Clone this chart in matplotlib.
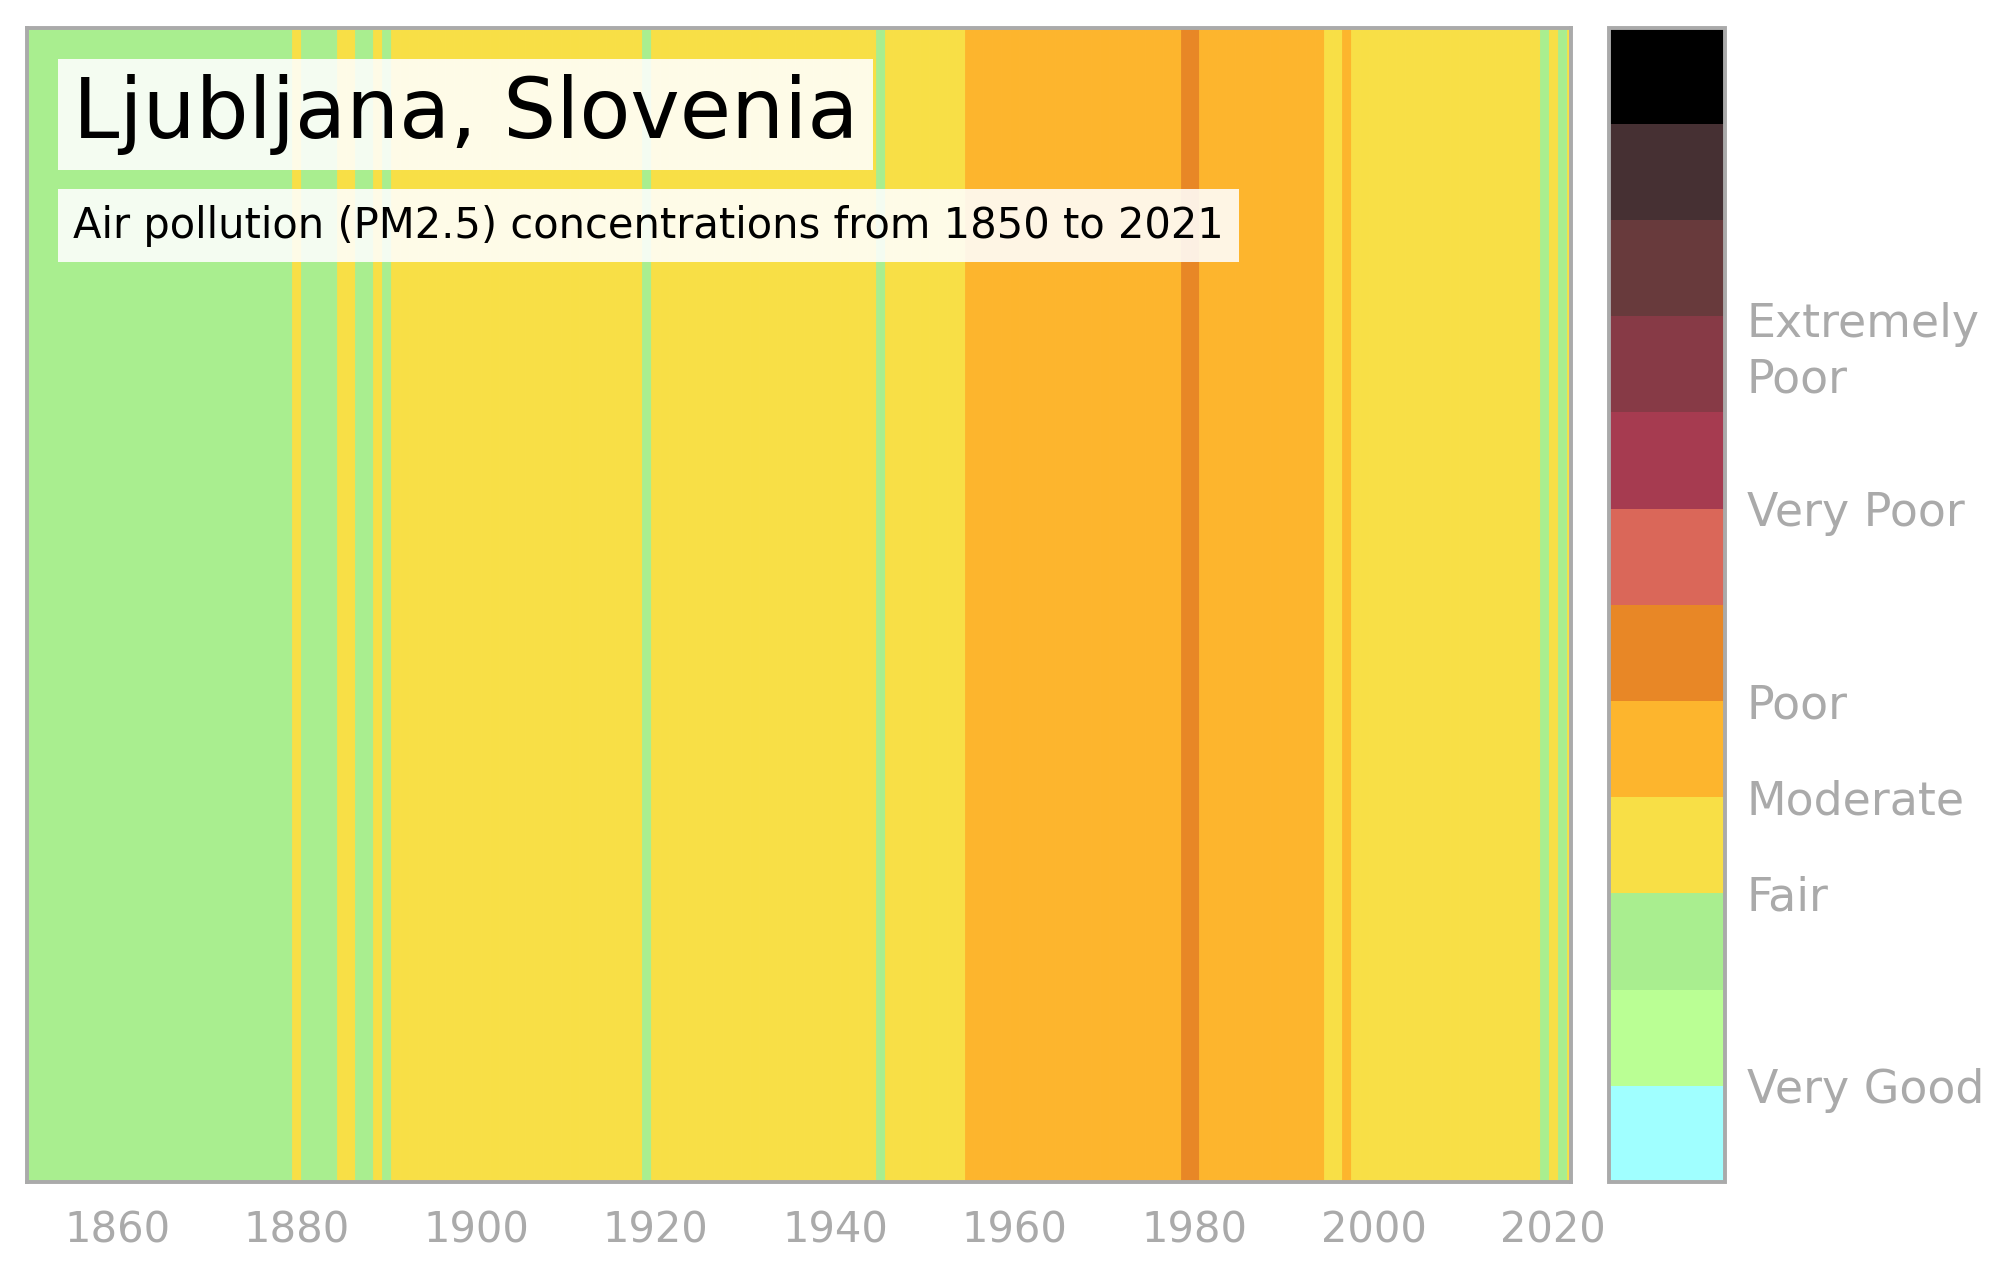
import matplotlib.pyplot as plt
import numpy as np
from matplotlib.colors import ListedColormap, BoundaryNorm
from matplotlib.cm import ScalarMappable

# PM2.5 level per year (index into the colour scale below)
years = list(range(1850, 2023))
levels = [
    2, 2, 2, 2, 2, 2, 2, 2, 2, 2,   # 1850s
    2, 2, 2, 2, 2, 2, 2, 2, 2, 2,   # 1860s
    2, 2, 2, 2, 2, 2, 2, 2, 2, 2,   # 1870s
    3, 2, 2, 2, 2, 3, 3, 2, 2, 3,   # 1880s
    2, 3, 3, 3, 3, 3, 3, 3, 3, 3,   # 1890s
    3, 3, 3, 3, 3, 3, 3, 3, 3, 3,   # 1900s
    3, 3, 3, 3, 3, 3, 3, 3, 3, 2,   # 1910s
    3, 3, 3, 3, 3, 3, 3, 3, 3, 3,   # 1920s
    3, 3, 3, 3, 3, 3, 3, 3, 3, 3,   # 1930s
    3, 3, 3, 3, 3, 2, 3, 3, 3, 3,   # 1940s
    3, 3, 3, 3, 3, 4, 4, 4, 4, 4,   # 1950s
    4, 4, 4, 4, 4, 4, 4, 4, 4, 4,   # 1960s
    4, 4, 4, 4, 4, 4, 4, 4, 4, 5,   # 1970s
    5, 4, 4, 4, 4, 4, 4, 4, 4, 4,   # 1980s
    4, 4, 4, 4, 4, 3, 3, 4, 3, 3,   # 1990s
    3, 3, 3, 3, 3, 3, 3, 3, 3, 3,   # 2000s
    3, 3, 3, 3, 3, 3, 3, 3, 3, 2,   # 2010s
    3, 2, 3,                        # 2020s
]

# colour scale, bottom to top
scale_colors = ['#a0ffff', '#baff94', '#a9ee8f', '#f8df46', '#fdb52d', '#e88726',
                '#da6759', '#a63b50', '#873a46', '#683a3c', '#463033', '#000000']
scale_ticks = [1, 3, 4, 5, 7, 8.73]
scale_labels = ['Very Good', 'Fair', 'Moderate', 'Poor', 'Very Poor', 'Extremely\nPoor']

xticks = [1860, 1880, 1900, 1920, 1940, 1960, 1980, 2000, 2020]

title = 'Ljubljana, Slovenia'
subtitle = 'Air pollution (PM2.5) concentrations from 1850 to 2021'

grey = '#aaaaaa'

cmap = ListedColormap(scale_colors)
norm = BoundaryNorm(np.arange(len(scale_colors) + 1), cmap.N)

fig = plt.figure(figsize=(20.04, 12.68), dpi=100)
ax = fig.add_axes([0.01362, 0.0678, 0.7704, 0.9105])

bar_colors = [cmap(norm(lv + 0.5)) for lv in levels]
ax.bar(years, 1, width=1.0, color=bar_colors, edgecolor=bar_colors, linewidth=0.6)
ax.set_xlim(1850, 2022)
ax.set_ylim(0, 1)
ax.set_yticks([])
ax.set_xticks(xticks)
ax.tick_params(axis='x', length=0, pad=20, labelsize=30, labelcolor=grey)
for s in ax.spines.values():
    s.set_color(grey)
    s.set_linewidth(2.8)

box = dict(facecolor='white', alpha=0.88, edgecolor='none', pad=11)
ax.text(0.0296, 0.904, title, transform=ax.transAxes, fontsize=60,
        va='baseline', ha='left', bbox=box)
ax.text(0.0296, 0.818, subtitle, transform=ax.transAxes, fontsize=30,
        va='baseline', ha='left', bbox=box)

# colour scale on its own axes, same height as the stripes
cax = fig.add_axes([1609 / 2004, 0.0678, 115.5 / 2004, 0.9105])
sm = ScalarMappable(norm=norm, cmap=cmap)
cb = fig.colorbar(sm, cax=cax, ticks=scale_ticks)
cb.ax.minorticks_off()
cb.ax.set_yticklabels(scale_labels)
cb.ax.tick_params(which='both', length=0, pad=16, labelsize=33, labelcolor=grey)
for lbl in cb.ax.get_yticklabels():
    lbl.set_linespacing(1.31)
cb.outline.set_edgecolor(grey)
cb.outline.set_linewidth(2.8)

fig.savefig('out.png', dpi=100)
